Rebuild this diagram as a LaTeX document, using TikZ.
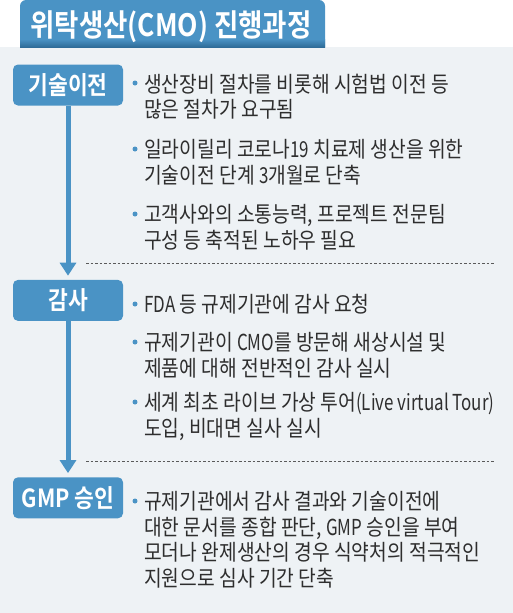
\documentclass[tikz,border=0pt]{standalone}
\usepackage{fontspec}
\setmainfont{Noto Sans CJK KR}[FakeStretch=0.875, BoldFont={Noto Sans CJK KR Bold}]
\newfontfamily\headfont{Noto Sans CJK KR Bold}[FakeStretch=0.86]
\newfontfamily\latfont{Noto Sans CJK KR}[FakeStretch=0.77]
\usepackage{tikz}
\usetikzlibrary{arrows.meta, positioning}
\definecolor{stageblue}{HTML}{4A93C5}
\definecolor{tabdark}{HTML}{2F6C98}
\definecolor{panelbg}{HTML}{EEF2F5}
\definecolor{bodygray}{HTML}{2E2E2E}
\definecolor{rulegray}{HTML}{5A5A5A}
\newcommand{\lat}[1]{{\latfont #1}}

\begin{document}
\begin{tikzpicture}[
  x=1pt, y=-1pt,
  stage/.style={fill=stageblue, rounded corners=5pt, minimum width=110pt,
                minimum height=41pt, inner sep=0pt, text=white,
                font=\headfont\fontsize{25}{28}\selectfont},
  item/.style={anchor=north west, inner sep=0pt, align=left, text=bodygray,
               font=\fontsize{22}{25.5}\selectfont},
  dot/.style={fill=stageblue},
  flow/.style={-{Triangle[width=16pt, length=13pt]}, line width=5pt,
               draw=stageblue, shorten >=4pt},
  sep/.style={draw=rulegray, line width=0.8pt, dash pattern=on 2.5pt off 2pt}
]
\useasboundingbox (0,0) rectangle (513,613);

% Panel and title tab
\fill[panelbg] (0,47) rectangle (513,613);
\fill[stageblue, rounded corners=6pt] (20,47) -- (20,0) -- (325,0) [sharp corners] -- (325,47) -- cycle;
\shade[top color=stageblue, bottom color=tabdark] (20,39) rectangle (325,47);
\node[text=white, inner sep=0pt, font=\headfont\fontsize{30.8}{33}\selectfont] (title) at (171,27) {위탁생산(CMO) 진행과정};

% Stages
\node[stage] (tech) at (68,85) {기술이전};
\node[stage, below=174pt of tech] (audit) {감사};
\node[stage, below=156pt of audit] (gmp) {GMP 승인};

% Flow arrows
\draw[flow] (tech) -- (audit);
\draw[flow] (audit) -- (gmp);

% Separators
\draw[sep] (86,263) -- (495,263);
\draw[sep] (86,461) -- (495,461);

% Stage 1 — 기술이전
\node[item] (t11) at (144,73.5) {생산장비 절차를 비롯해 시험법 이전 등\\많은 절차가 요구됨};
\node[item] (t12) at (144,139.5) {일라이릴리 코로나\lat{19} 치료제 생산을 위한\\기술이전 단계 \lat{3}개월로 단축};
\node[item] (t13) at (144,204.5) {고객사와의 소통능력, 프로젝트 전문팀\\구성 등 축적된 노하우 필요};

% Stage 2 — 감사
\node[item] (t21) at (144,294.5) {\lat{FDA} 등 규제기관에 감사 요청};
\node[item] (t22) at (144,332.5) {규제기관이 \lat{CMO}를 방문해 새상시설 및\\제품에 대해 전반적인 감사 실시};
\node[item] (t23) at (144,392.5) {세계 최초 라이브 가상 투어\lat{(Live virtual Tour)}\\도입, 비대면 실사 실시};

% Stage 3 — GMP 승인
\node[item] (t31) at (144,491.5) {규제기관에서 감사 결과와 기술이전에\\대한 문서를 종합 판단, \lat{GMP} 승인을 부여\\모더나 완제생산의 경우 식약처의 적극적인\\지원으로 심사 기간 단축};

% Bullets
\fill[dot] ([xshift=-9pt, yshift=-9.5pt]t11.north west) circle (2.5pt);
\fill[dot] ([xshift=-9pt, yshift=-9.5pt]t12.north west) circle (2.5pt);
\fill[dot] ([xshift=-9pt, yshift=-9.5pt]t13.north west) circle (2.5pt);
\fill[dot] ([xshift=-9pt, yshift=-9.5pt]t21.north west) circle (2.5pt);
\fill[dot] ([xshift=-9pt, yshift=-9.5pt]t22.north west) circle (2.5pt);
\fill[dot] ([xshift=-9pt, yshift=-9.5pt]t23.north west) circle (2.5pt);
\fill[dot] ([xshift=-9pt, yshift=-9.5pt]t31.north west) circle (2.5pt);

\end{tikzpicture}
\end{document}
